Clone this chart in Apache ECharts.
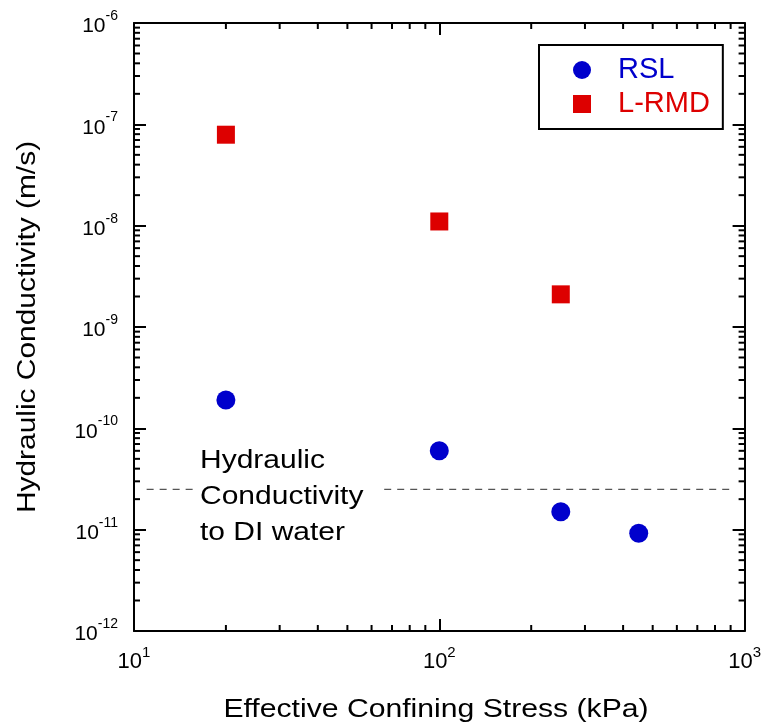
<!DOCTYPE html>
<html><head><meta charset="utf-8">
<script src="https://cdn.jsdelivr.net/npm/echarts@6/dist/echarts.min.js"></script>
<style>html,body{margin:0;padding:0;background:#fff}#c{width:764px;height:727px}</style>
</head><body><div id="c"></div>
<script>
// ---- data ----
const stressRSL = [20, 100, 250, 450];
const kRSL = [1.9e-10, 6.0e-11, 1.5e-11, 9.2e-12];
const stressLRMD = [20, 100, 250];
const kLRMD = [7.9e-8, 1.1e-8, 2.1e-9];
const seriesNames = ['RSL', 'L-RMD'];
const seriesColors = ['#0000CC', '#DD0000'];
const diWaterK = 2.5e-11;
const diWaterSegments = [[11, 16.1], [66, 910]];
const annotationLines = ['Hydraulic', 'Conductivity', 'to DI water'];
const xTitle = 'Effective Confining Stress (kPa)';
const yTitle = 'Hydraulic Conductivity (m/s)';
const xRange = [10, 1000];
const yRange = [1e-12, 1e-6];
const minorMultipliers = [2, 3, 4, 5, 6, 7, 8, 9];

const FONT = '"Liberation Sans", Arial, sans-serif';

function minorTicks(lo, hi) {
  const out = [];
  for (let e = Math.round(Math.log10(lo)); e < Math.round(Math.log10(hi)); e++) {
    minorMultipliers.forEach(m => out.push(m * Math.pow(10, e)));
  }
  return out;
}
const xMinor = minorTicks(xRange[0], xRange[1]);
const yMinor = minorTicks(yRange[0], yRange[1]);

function powLabel(v) {
  const e = Math.round(Math.log10(v));
  return '{b|10}{s|' + e + '}';
}
const richX = {
  b: { fontSize: 22, lineHeight: 28, verticalAlign: 'bottom', fontFamily: FONT, color: '#000' },
  s: { fontSize: 15, lineHeight: 8, verticalAlign: 'top', fontFamily: FONT, color: '#000' }
};
const richY = {
  b: { fontSize: 21, lineHeight: 28, verticalAlign: 'bottom', fontFamily: FONT, color: '#000' },
  s: { fontSize: 14, lineHeight: 8, verticalAlign: 'top', fontFamily: FONT, color: '#000' }
};

const axisLine = { show: true, lineStyle: { color: '#000', width: 2 } };
const majorTick = { show: true, inside: true, length: 12, lineStyle: { color: '#000', width: 2 } };

const chart = echarts.init(document.getElementById('c'), null, { renderer: 'canvas' });

const TICK = 6;
const option = {
  animation: false,
  backgroundColor: '#fff',
  grid: { left: 134, right: 18, top: 23, bottom: 96, containLabel: false },
  xAxis: [
    { type: 'log', logBase: 10, min: xRange[0], max: xRange[1], splitNumber: 2, position: 'bottom',
      axisLine, axisTick: majorTick, splitLine: { show: false }, minorTick: { show: false },
      axisLabel: { formatter: powLabel, rich: richX, fontSize: 22, fontFamily: FONT, color: '#000',
        margin: 14, showMinLabel: true, showMaxLabel: true } },
    { type: 'log', logBase: 10, min: xRange[0], max: xRange[1], splitNumber: 2, position: 'top',
      axisLine, axisTick: majorTick, splitLine: { show: false }, axisLabel: { show: false } }
  ],
  yAxis: [
    { type: 'log', logBase: 10, min: yRange[0], max: yRange[1], splitNumber: 6, position: 'left',
      axisLine, axisTick: majorTick, splitLine: { show: false }, minorTick: { show: false },
      axisLabel: { formatter: powLabel, rich: richY, fontSize: 21, fontFamily: FONT, color: '#000',
        margin: 16, showMinLabel: true, showMaxLabel: true } },
    { type: 'log', logBase: 10, min: yRange[0], max: yRange[1], splitNumber: 6, position: 'right',
      axisLine, axisTick: majorTick, splitLine: { show: false }, axisLabel: { show: false } }
  ],
  legend: {
    data: seriesNames.map((n, i) => ({
      name: n, icon: i === 0 ? 'circle' : 'rect',
      itemStyle: { color: seriesColors[i], opacity: 1 },
      textStyle: { color: seriesColors[i] }
    })),
    orient: 'vertical', left: 539, top: 45,
    padding: [10, 13, 10, 34],
    itemWidth: 18, itemHeight: 18, itemGap: 4,
    borderColor: '#000', borderWidth: 2, borderRadius: 0, backgroundColor: '#fff',
    textStyle: { fontSize: 29, fontFamily: FONT, lineHeight: 30, padding: [0, 0, 0, 22] },
    selectedMode: false
  },
  series: [
    { name: seriesNames[0], type: 'scatter', symbol: 'circle', symbolSize: 19,
      itemStyle: { color: seriesColors[0], opacity: 1 }, z: 5,
      data: stressRSL.map((x, i) => [x, kRSL[i]]) },
    { name: seriesNames[1], type: 'scatter', symbol: 'rect', symbolSize: 18,
      itemStyle: { color: seriesColors[1], opacity: 1 }, z: 5,
      data: stressLRMD.map((x, i) => [x, kLRMD[i]]) },
    ...diWaterSegments.map((seg, j) => ({
      name: 'DI water ' + j, type: 'line', symbol: 'none', silent: true,
      lineStyle: { color: '#555', width: 1.4, type: [7, 6] },
      data: seg.map(x => [x, diWaterK])
    })),
    { name: 'xMinorTicks', type: 'custom', silent: true, z: 4,
      data: xMinor.map(v => [v, 1e-9]),
      renderItem: function (params, api) {
        const x = api.coord([api.value(0), 1e-9])[0];
        const cs = params.coordSys;
        const st = { stroke: '#000', lineWidth: 2 };
        return { type: 'group', children: [
          { type: 'line', shape: { x1: x, y1: cs.y + cs.height, x2: x, y2: cs.y + cs.height - TICK }, style: st },
          { type: 'line', shape: { x1: x, y1: cs.y, x2: x, y2: cs.y + TICK }, style: st }
        ] };
      } },
    { name: 'yMinorTicks', type: 'custom', silent: true, z: 4,
      data: yMinor.map(v => [100, v]),
      renderItem: function (params, api) {
        const y = api.coord([100, api.value(1)])[1];
        const cs = params.coordSys;
        const st = { stroke: '#000', lineWidth: 2 };
        return { type: 'group', children: [
          { type: 'line', shape: { x1: cs.x, y1: y, x2: cs.x + TICK, y2: y }, style: st },
          { type: 'line', shape: { x1: cs.x + cs.width, y1: y, x2: cs.x + cs.width - TICK, y2: y }, style: st }
        ] };
      } }
  ],
  graphic: [
    { type: 'text', x: 436, y: 710, scaleX: 1.16, silent: true,
      style: { text: xTitle, font: '26px ' + FONT, fill: '#000', textAlign: 'center', textVerticalAlign: 'middle' } },
    { type: 'text', x: 28, y: 327, scaleX: 1.15, rotation: Math.PI / 2, silent: true,
      style: { text: yTitle, font: '26px ' + FONT, fill: '#000', textAlign: 'center', textVerticalAlign: 'middle' } },
    ...annotationLines.map((t, i) => ({
      type: 'text', x: 200, y: 461 + i * 36, scaleX: 1.2, silent: true,
      style: { text: t, font: '25px ' + FONT, fill: '#000', textAlign: 'left', textVerticalAlign: 'middle' }
    }))
  ]
};
chart.setOption(option);
</script>
</body></html>
